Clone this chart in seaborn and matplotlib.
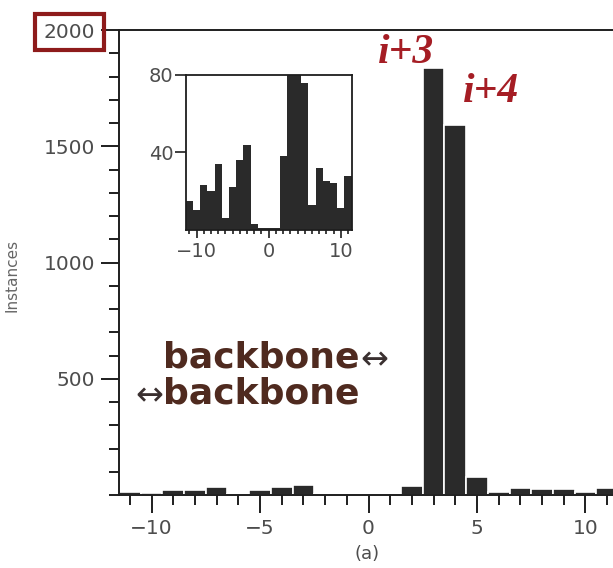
import matplotlib
matplotlib.use("Agg")
import matplotlib.pyplot as plt
import pandas as pd
import seaborn as sns
from matplotlib.ticker import MultipleLocator

# residue offset of the partner (i + k) and number of hydrogen bonds observed
offsets = list(range(-11, 12))
instances = [15, 10, 23, 20, 34, 6, 22, 36, 44, 3, 1, 1, 1,
             38, 1837, 1591, 76, 13, 32, 25, 24, 11, 28]

main_yticks = [500, 1000, 1500, 2000]
main_xticks = [-10, -5, 0, 5, 10]
inset_yticks = [40, 80]
inset_xticks = [-10, 0, 10]

df = pd.DataFrame({"offset": offsets, "instances": instances})

sns.set_theme(style="ticks")
plt.rcParams["font.family"] = ["DejaVu Sans"]

BAR = "#2a2a2a"
INK = "#4d4d4d"
SPINE = "#1e1e1e"
RED = "#a51d24"
HAND = "#4f2a1f"

fig = plt.figure(figsize=(6.13, 5.68), dpi=100)
fig.patch.set_facecolor("white")

# ---- main histogram ----
ax = fig.add_axes([119 / 613, 73 / 568, 499 / 613, 465 / 568])
sns.histplot(data=df, x="offset", weights="instances", discrete=True,
             color=BAR, edgecolor="white", linewidth=1.2, alpha=1, ax=ax)
ax.set_xlim(-11.5, 11.5)
ax.set_ylim(0, 2000)
ax.set_xticks(main_xticks)
ax.set_yticks(main_yticks, labels=[str(v) for v in main_yticks])
ax.xaxis.set_minor_locator(MultipleLocator(1))
ax.yaxis.set_minor_locator(MultipleLocator(100))
ax.tick_params(which="major", direction="out", length=13, width=1.4,
               color=SPINE, labelsize=14.5, labelcolor=INK, pad=4)
ax.tick_params(which="minor", direction="out", length=7, width=1.4, color=SPINE)
for side in ["left", "bottom", "top"]:
    ax.spines[side].set_linewidth(1.4)
    ax.spines[side].set_color(SPINE)
ax.spines["right"].set_visible(False)

ax.set_ylabel("Instances", fontsize=11, color="#666666")
ax.yaxis.set_label_coords(-0.200, 0.473)
ax.set_xlabel("(a)", fontsize=13, color=INK)
ax.xaxis.set_label_coords(0.498, -0.1075)

# boxed top label
top_label = ax.get_yticklabels()[-1]
top_label.set_bbox(dict(boxstyle="square,pad=0.42", fc="none",
                        ec="#8e1b1b", lw=3.0))

# handwritten annotations
peak3 = instances[offsets.index(3)]
peak4 = instances[offsets.index(4)]
hand_font = dict(family="Liberation Serif", style="italic", weight="bold",
                 fontsize=30, color=RED, ha="center", va="center")
ax.text(3 - 1.25, peak3 + 64, "i+3", **hand_font)
ax.text(4 + 1.67, peak4 + 142, "i+4", **hand_font)

bb = dict(fontsize=26, weight="bold", color=HAND, ha="left", va="baseline")
fig.text(163 / 613, 1 - 367 / 568, "backbone", **bb)
fig.text(163 / 613, 1 - 404 / 568, "backbone", **bb)
arrow = dict(fontsize=24, color="#3a3030", va="center")
fig.text(360 / 613, 1 - 360 / 568, "\u2194", ha="left", **arrow)
fig.text(163 / 613, 1 - 396 / 568, "\u2194", ha="right", **arrow)

# ---- inset: same counts on a 0-80 scale ----
ins = fig.add_axes([185.7 / 613, (568 - 229.7) / 568, 166 / 613, 154.7 / 568])
sns.histplot(data=df, x="offset", weights="instances", discrete=True,
             color=BAR, edgecolor=BAR, linewidth=0, alpha=1, ax=ins)
ins.set_xlim(-11.5, 11.5)
ins.set_ylim(0, 80)
ins.set_xticks(inset_xticks)
ins.set_yticks(inset_yticks, labels=[str(v) for v in inset_yticks])
ins.xaxis.set_minor_locator(MultipleLocator(1))
ins.tick_params(which="major", direction="out", length=6, width=1.2,
                color=SPINE, labelsize=14, labelcolor=INK, pad=3)
ins.tick_params(axis="y", which="major", length=8, pad=1)
ins.tick_params(which="minor", direction="out", length=3, width=1.2, color=SPINE)
for side in ins.spines.values():
    side.set_linewidth(1.3)
    side.set_color(SPINE)
ins.set_xlabel("")
ins.set_ylabel("")
ins.set_facecolor("white")

fig.savefig("out.png", dpi=100, facecolor="white")
